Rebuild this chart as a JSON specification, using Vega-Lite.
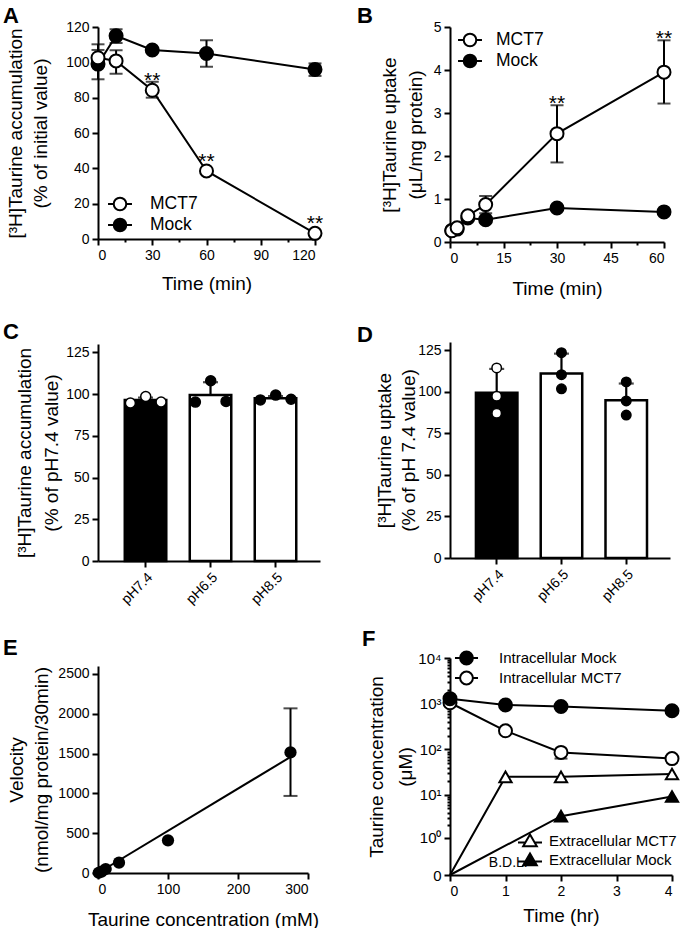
{
  "$schema": "https://vega.github.io/schema/vega-lite/v6.json",
  "background": "white",
  "padding": {"left": 3, "top": 5, "right": 0, "bottom": 0},
  "config": {
    "font": "Liberation Sans",
    "view": {"stroke": null},
    "axis": {"domainColor": "black", "domainWidth": 2, "tickColor": "black", "tickWidth": 2, "tickSize": 6, "tickCount": 100, "labelFontSize": 14, "labelColor": "black", "labelPadding": 3, "labelOverlap": false, "titleFontSize": 19, "titleFontWeight": "normal", "titleColor": "black", "grid": false, "titleLineHeight": 25},
    "axisY": {"minExtent": 30, "maxExtent": 30},
    "legend": {"labelColor": "black", "padding": 0, "titleFontSize": 0},
    "title": {"fontSize": 22, "fontWeight": "bold", "anchor": "start", "frame": "group", "color": "black", "baseline": "bottom"}
  },
  "datasets": {
    "A": [
      {"g": "Mock", "t": 0, "v": 99, "lo": 90.4, "hi": 110.2},
      {"g": "Mock", "t": 10, "v": 115, "lo": 111, "hi": 118.7},
      {"g": "Mock", "t": 30, "v": 107, "lo": 106, "hi": 108},
      {"g": "Mock", "t": 60, "v": 105, "lo": 97.5, "hi": 112.5},
      {"g": "Mock", "t": 120, "v": 96, "lo": 92.3, "hi": 99.4},
      {"g": "MCT7", "t": 0, "v": 102.6, "lo": 98, "hi": 107},
      {"g": "MCT7", "t": 10, "v": 100.8, "lo": 93.6, "hi": 106.8},
      {"g": "MCT7", "t": 30, "v": 84.2, "lo": 80, "hi": 89, "sig": "**"},
      {"g": "MCT7", "t": 60, "v": 38.5, "lo": 37.5, "hi": 39.5, "sig": "**"},
      {"g": "MCT7", "t": 120, "v": 3.2, "lo": 2.5, "hi": 4, "sig": "**"}
    ],
    "B": [
      {"g": "Mock", "t": 0.5, "v": 0.27},
      {"g": "Mock", "t": 2, "v": 0.3},
      {"g": "Mock", "t": 5, "v": 0.56},
      {"g": "Mock", "t": 10, "v": 0.52},
      {"g": "Mock", "t": 30, "v": 0.79},
      {"g": "Mock", "t": 60, "v": 0.7},
      {"g": "MCT7", "t": 0.5, "v": 0.26},
      {"g": "MCT7", "t": 2, "v": 0.33},
      {"g": "MCT7", "t": 5, "v": 0.61},
      {"g": "MCT7", "t": 10, "v": 0.87, "lo": 0.67, "hi": 1.07},
      {"g": "MCT7", "t": 30, "v": 2.52, "lo": 1.85, "hi": 3.18, "sig": "**"},
      {"g": "MCT7", "t": 60, "v": 3.95, "lo": 3.22, "hi": 4.69, "sig": "**"}
    ],
    "Cbar": [
      {"c": "pH7.4", "m": 96.5, "hi": 97.9},
      {"c": "pH6.5", "m": 99.4, "hi": 107.1},
      {"c": "pH8.5", "m": 97.5, "hi": 98.8}
    ],
    "Cpts": [
      {"c": "pH7.4", "rep": "a", "v": 94.6},
      {"c": "pH7.4", "rep": "b", "v": 98.5},
      {"c": "pH7.4", "rep": "c", "v": 95.2},
      {"c": "pH6.5", "rep": "a", "v": 95.2},
      {"c": "pH6.5", "rep": "b", "v": 108},
      {"c": "pH6.5", "rep": "c", "v": 95.6},
      {"c": "pH8.5", "rep": "a", "v": 96.5},
      {"c": "pH8.5", "rep": "b", "v": 99.4},
      {"c": "pH8.5", "rep": "c", "v": 96.9}
    ],
    "Dbar": [
      {"c": "pH7.4", "m": 99.5, "hi": 113.8},
      {"c": "pH6.5", "m": 111, "hi": 123},
      {"c": "pH8.5", "m": 94.9, "hi": 105}
    ],
    "Dpts": [
      {"c": "pH7.4", "v": 114.4},
      {"c": "pH7.4", "v": 97.4},
      {"c": "pH7.4", "v": 87.1},
      {"c": "pH6.5", "v": 123.6},
      {"c": "pH6.5", "v": 110.3},
      {"c": "pH6.5", "v": 101.8},
      {"c": "pH8.5", "v": 106},
      {"c": "pH8.5", "v": 94.5},
      {"c": "pH8.5", "v": 86}
    ],
    "E": [
      {"x": 1, "v": 3},
      {"x": 5, "v": 18},
      {"x": 11, "v": 50},
      {"x": 30, "v": 130},
      {"x": 100, "v": 410},
      {"x": 275, "v": 1515, "lo": 968, "hi": 2068}
    ],
    "Efit": [
      {"x": 0, "v": 0},
      {"x": 274, "v": 1452}
    ],
    "F": [
      {"g": "Intracellular MCT7", "t": 0, "v": 1050},
      {"g": "Intracellular MCT7", "t": 1, "v": 256},
      {"g": "Intracellular MCT7", "t": 2, "v": 86, "lo": 63, "hi": 110},
      {"g": "Intracellular MCT7", "t": 4, "v": 63},
      {"g": "Intracellular Mock", "t": 0, "v": 1290},
      {"g": "Intracellular Mock", "t": 1, "v": 940},
      {"g": "Intracellular Mock", "t": 2, "v": 870},
      {"g": "Intracellular Mock", "t": 4, "v": 700},
      {"g": "Extracellular MCT7", "t": 0, "v": 0},
      {"g": "Extracellular MCT7", "t": 1, "v": 25},
      {"g": "Extracellular MCT7", "t": 2, "v": 25},
      {"g": "Extracellular MCT7", "t": 4, "v": 29},
      {"g": "Extracellular Mock", "t": 0, "v": 0},
      {"g": "Extracellular Mock", "t": 2, "v": 3.3},
      {"g": "Extracellular Mock", "t": 4, "v": 9.2}
    ],
    "Fnote": [
      {"note": "B.D.L.", "t": 1.05, "v": 0.15}
    ]
  },
  "bounds": "flush",
  "spacing": 352,
  "resolve": {"scale": {"fill": "independent"}, "legend": {"fill": "independent"}},
  "hconcat": [
    {
      "bounds": "flush",
      "spacing": 105,
      "resolve": {"scale": {"fill": "independent"}, "legend": {"fill": "independent"}},
      "vconcat": [
        {
          "width": 217, "height": 212,
          "title": {"text": "A", "dx": -95, "offset": -8},
          "data": {"name": "A"},
          "encoding": {
            "x": {"field": "t", "type": "quantitative", "scale": {"domain": [0, 120]},
              "axis": {"values": [0, 15, 30, 45, 60, 75, 90, 105, 120], "format": "d", "labelExpr": "datum.value % 30 == 0 ? datum.label : ''", "tickSize": {"condition": {"test": "datum.value % 30 == 0", "value": 6}, "value": 3}, "title": "Time (min)", "titlePadding": 12}}
          },
          "layer": [
            {"mark": {"type": "line", "color": "black", "strokeWidth": 2},
              "encoding": {"y": {"field": "v", "type": "quantitative", "scale": {"domain": [0, 120]}, "axis": {"values": [0, 20, 40, 60, 80, 100, 120], "format": "d", "title": ["[³H]Taurine accumulation", "(% of initial value)"], "titlePadding": 18}}, "detail": {"field": "g"}}},
            {"transform": [{"filter": "isValid(datum.lo)"}],
              "mark": {"type": "rule", "color": "black", "strokeWidth": 2},
              "encoding": {"y": {"field": "lo", "type": "quantitative"}, "y2": {"field": "hi"}}},
            {"transform": [{"filter": "isValid(datum.lo)"}],
              "mark": {"type": "tick", "color": "black", "thickness": 2, "size": 13, "orient": "horizontal"},
              "encoding": {"y": {"field": "hi", "type": "quantitative"}}},
            {"transform": [{"filter": "isValid(datum.lo)"}],
              "mark": {"type": "tick", "color": "black", "thickness": 2, "size": 13, "orient": "horizontal"},
              "encoding": {"y": {"field": "lo", "type": "quantitative"}}},
            {"mark": {"type": "point", "filled": true, "size": 169, "stroke": "black", "strokeWidth": 2, "opacity": 1},
              "encoding": {"y": {"field": "v", "type": "quantitative"},
                "fill": {"field": "g", "type": "nominal", "scale": {"domain": ["MCT7", "Mock"], "range": ["white", "black"]},
                  "legend": {"title": null, "orient": "none", "legendX": 11.5, "legendY": 166.5, "labelFontSize": 17.5, "labelOffset": 19.5, "rowPadding": -2, "symbolSize": 361, "symbolStrokeColor": "black", "symbolStrokeWidth": 2,
                    "symbolType": "M-1.26,0H-0.66M0.66,0H1.26M-0.66,0A0.66,0.66,0,1,1,0.66,0A0.66,0.66,0,1,1,-0.66,0Z",
                    "encode": {"symbols": {"update": {"shape": {"value": "M-1.26,0H-0.66M0.66,0H1.26M-0.66,0A0.66,0.66,0,1,1,0.66,0A0.66,0.66,0,1,1,-0.66,0Z"}, "size": {"value": 361}, "stroke": {"value": "black"}, "strokeWidth": {"value": 2}}}}}}}},
            {"transform": [{"filter": "datum.sig"}],
              "mark": {"type": "text", "fontSize": 21, "dy": -3, "baseline": "alphabetic", "color": "black"},
              "encoding": {"y": {"field": "v", "type": "quantitative"}, "text": {"field": "sig"}}}
          ]
        },
        {
          "width": 222, "height": 217,
          "title": {"text": "C", "dx": -95, "offset": 0},
          "encoding": {
            "x": {"field": "c", "type": "nominal", "sort": ["pH7.4", "pH6.5", "pH8.5"], "scale": {"paddingInner": 0.36, "paddingOuter": 0.388, "align": 0.53},
              "axis": {"title": null, "labelAngle": -45, "labelFontSize": 14}}
          },
          "layer": [
            {"data": {"name": "Cbar"},
              "mark": {"type": "bar", "stroke": "black", "strokeWidth": 2.5, "width": 41.5},
              "encoding": {"y": {"field": "m", "type": "quantitative", "scale": {"domain": [0, 125]}, "axis": {"values": [0, 25, 50, 75, 100, 125], "format": "d", "title": ["[³H]Taurine accumulation", "(% of pH7.4 value)"], "titlePadding": 7, "titleLineHeight": 27}},
                "fill": {"condition": {"test": "datum.c === 'pH7.4'", "value": "black"}, "value": "white"}}},
            {"data": {"name": "Cbar"},
              "mark": {"type": "rule", "color": "black", "strokeWidth": 2.2},
              "encoding": {"y": {"field": "m", "type": "quantitative"}, "y2": {"field": "hi"}}},
            {"data": {"name": "Cbar"},
              "mark": {"type": "tick", "color": "black", "thickness": 2.2, "size": 15, "orient": "horizontal"},
              "encoding": {"y": {"field": "hi", "type": "quantitative"}}},
            {"data": {"name": "Cpts"},
              "mark": {"type": "point", "filled": true, "size": 100, "stroke": "black", "strokeWidth": 1.5, "opacity": 1},
              "encoding": {"y": {"field": "v", "type": "quantitative"},
                "xOffset": {"field": "rep", "type": "nominal", "scale": {"range": [-2, 44]}},
                "fill": {"condition": {"test": "datum.c === 'pH7.4'", "value": "white"}, "value": "black"}}}
          ]
        },
        {
          "width": 210, "height": 207,
          "title": {"text": "E", "dx": -95, "offset": 6},
          "encoding": {
            "x": {"field": "x", "type": "quantitative", "scale": {"domain": [0, 300]},
              "axis": {"values": [0, 100, 200, 300], "format": "d", "title": "Taurine concentration (mM)", "titlePadding": 14}}
          },
          "layer": [
            {"data": {"name": "Efit"},
              "mark": {"type": "line", "color": "black", "strokeWidth": 2},
              "encoding": {"y": {"field": "v", "type": "quantitative", "scale": {"domain": [0, 2500]}, "axis": {"values": [0, 500, 1000, 1500, 2000, 2500], "format": "d", "title": ["Velocity", "(nmol/mg protein/30min)"], "titlePadding": 17}}}},
            {"data": {"name": "E"}, "transform": [{"filter": "isValid(datum.lo)"}],
              "mark": {"type": "rule", "color": "black", "strokeWidth": 2},
              "encoding": {"y": {"field": "lo", "type": "quantitative"}, "y2": {"field": "hi"}}},
            {"data": {"name": "E"}, "transform": [{"filter": "isValid(datum.lo)"}],
              "mark": {"type": "tick", "color": "black", "thickness": 2, "size": 14, "orient": "horizontal"},
              "encoding": {"y": {"field": "hi", "type": "quantitative"}}},
            {"data": {"name": "E"}, "transform": [{"filter": "isValid(datum.lo)"}],
              "mark": {"type": "tick", "color": "black", "thickness": 2, "size": 14, "orient": "horizontal"},
              "encoding": {"y": {"field": "lo", "type": "quantitative"}}},
            {"data": {"name": "E"},
              "mark": {"type": "point", "filled": true, "size": 150, "color": "black", "opacity": 1},
              "encoding": {"y": {"field": "v", "type": "quantitative"}}}
          ]
        }
      ]
    },
    {
      "bounds": "flush",
      "spacing": 100,
      "resolve": {"scale": {"fill": "independent"}, "legend": {"fill": "independent"}},
      "vconcat": [
        {
          "width": 214, "height": 215,
          "title": {"text": "B", "dx": -93, "offset": -8},
          "data": {"name": "B"},
          "encoding": {
            "x": {"field": "t", "type": "quantitative", "scale": {"domain": [0, 60]},
              "axis": {"values": [0, 7.5, 15, 22.5, 30, 37.5, 45, 52.5, 60], "format": "d", "labelExpr": "datum.value % 15 == 0 ? datum.label : ''", "tickSize": {"condition": {"test": "datum.value % 15 == 0", "value": 6}, "value": 3}, "title": "Time (min)", "titlePadding": 14}}
          },
          "layer": [
            {"mark": {"type": "line", "color": "black", "strokeWidth": 2},
              "encoding": {"y": {"field": "v", "type": "quantitative", "scale": {"domain": [0, 5]}, "axis": {"values": [0, 1, 2, 3, 4, 5], "format": "d", "title": ["[³H]Taurine uptake", "(μL/mg protein)"], "titlePadding": -5, "titleLineHeight": 26}}, "detail": {"field": "g"}}},
            {"transform": [{"filter": "isValid(datum.lo)"}],
              "mark": {"type": "rule", "color": "black", "strokeWidth": 2},
              "encoding": {"y": {"field": "lo", "type": "quantitative"}, "y2": {"field": "hi"}}},
            {"transform": [{"filter": "isValid(datum.lo)"}],
              "mark": {"type": "tick", "color": "black", "thickness": 2, "size": 13, "orient": "horizontal"},
              "encoding": {"y": {"field": "hi", "type": "quantitative"}}},
            {"transform": [{"filter": "isValid(datum.lo)"}],
              "mark": {"type": "tick", "color": "black", "thickness": 2, "size": 13, "orient": "horizontal"},
              "encoding": {"y": {"field": "lo", "type": "quantitative"}}},
            {"mark": {"type": "point", "filled": true, "size": 169, "stroke": "black", "strokeWidth": 2, "opacity": 1},
              "encoding": {"y": {"field": "v", "type": "quantitative"},
                "fill": {"field": "g", "type": "nominal", "scale": {"domain": ["MCT7", "Mock"], "range": ["white", "black"]},
                  "legend": {"title": null, "orient": "none", "legendX": 9.5, "legendY": 2.5, "labelFontSize": 17.5, "labelOffset": 15.5, "rowPadding": -1, "symbolSize": 361, "symbolStrokeColor": "black", "symbolStrokeWidth": 2,
                    "symbolType": "M-1.26,0H-0.66M0.66,0H1.26M-0.66,0A0.66,0.66,0,1,1,0.66,0A0.66,0.66,0,1,1,-0.66,0Z",
                    "encode": {"symbols": {"update": {"shape": {"value": "M-1.26,0H-0.66M0.66,0H1.26M-0.66,0A0.66,0.66,0,1,1,0.66,0A0.66,0.66,0,1,1,-0.66,0Z"}, "size": {"value": 361}, "stroke": {"value": "black"}, "strokeWidth": {"value": 2}}}}}}}},
            {"transform": [{"filter": "datum.sig"}],
              "mark": {"type": "text", "fontSize": 21, "dy": 5, "baseline": "alphabetic", "color": "black"},
              "encoding": {"y": {"field": "hi", "type": "quantitative"}, "text": {"field": "sig"}}}
          ]
        },
        {
          "width": 220, "height": 216,
          "title": {"text": "D", "dx": -93, "offset": -5},
          "encoding": {
            "x": {"field": "c", "type": "nominal", "sort": ["pH7.4", "pH6.5", "pH8.5"], "scale": {"paddingInner": 0.36, "paddingOuter": 0.378, "align": 0.53},
              "axis": {"title": null, "labelAngle": -45, "labelFontSize": 14}}
          },
          "layer": [
            {"data": {"name": "Dbar"},
              "mark": {"type": "bar", "stroke": "black", "strokeWidth": 2.5, "width": 41.5},
              "encoding": {"y": {"field": "m", "type": "quantitative", "scale": {"domain": [0, 125]}, "axis": {"values": [0, 25, 50, 75, 100, 125], "format": "d", "title": ["[³H]Taurine uptake", "(% of pH 7.4 value)"], "titlePadding": 2, "titleLineHeight": 24}},
                "fill": {"condition": {"test": "datum.c === 'pH7.4'", "value": "black"}, "value": "white"}}},
            {"data": {"name": "Dbar"},
              "mark": {"type": "rule", "color": "black", "strokeWidth": 2.2},
              "encoding": {"y": {"field": "m", "type": "quantitative"}, "y2": {"field": "hi"}}},
            {"data": {"name": "Dbar"},
              "mark": {"type": "tick", "color": "black", "thickness": 2.2, "size": 15, "orient": "horizontal"},
              "encoding": {"y": {"field": "hi", "type": "quantitative"}}},
            {"data": {"name": "Dpts"},
              "mark": {"type": "point", "filled": true, "size": 90, "stroke": "black", "strokeWidth": 1.5, "opacity": 1},
              "encoding": {"y": {"field": "v", "type": "quantitative"},
                "fill": {"condition": {"test": "datum.c === 'pH7.4'", "value": "white"}, "value": "black"}}}
          ]
        },
        {
          "width": 222, "height": 217,
          "title": {"text": "F", "dx": -88, "offset": -2},
          "encoding": {
            "x": {"field": "t", "type": "quantitative", "scale": {"domain": [0, 4]},
              "axis": {"values": [0, 0.5, 1, 1.5, 2, 2.5, 3, 3.5, 4], "format": "d", "labelExpr": "datum.value % 1 == 0 ? datum.label : ''", "tickSize": {"condition": {"test": "datum.value % 1 == 0", "value": 6}, "value": 3}, "title": "Time (hr)", "titlePadding": 8}}
          },
          "layer": [
            {"data": {"name": "F"},
              "mark": {"type": "line", "color": "black", "strokeWidth": 2},
              "encoding": {"y": {"field": "v", "type": "quantitative", "scale": {"type": "symlog", "constant": 0.18, "domain": [0, 10000]},
                "axis": {"values": [0, 1, 2, 3, 4, 5, 6, 7, 8, 9, 10, 20, 30, 40, 50, 60, 70, 80, 90, 100, 200, 300, 400, 500, 600, 700, 800, 900, 1000, 2000, 3000, 4000, 5000, 6000, 7000, 8000, 9000, 10000],
                  "labelExpr": "datum.value == 0 ? '0' : datum.value == 1 ? '10⁰' : datum.value == 10 ? '10¹' : datum.value == 100 ? '10²' : datum.value == 1000 ? '10³' : datum.value == 10000 ? '10⁴' : ''",
                  "tickSize": {"condition": {"test": "datum.value == 0 || datum.value == 1 || datum.value == 10 || datum.value == 100 || datum.value == 1000 || datum.value == 10000", "value": 6}, "value": 3},
                  "labelFontSize": 15,
                  "title": ["Taurine concentration", "(μM)"], "titlePadding": 5, "titleLineHeight": 29}},
                "detail": {"field": "g"}}},
            {"data": {"name": "F"}, "transform": [{"filter": "isValid(datum.lo)"}],
              "mark": {"type": "rule", "color": "black", "strokeWidth": 2},
              "encoding": {"y": {"field": "lo", "type": "quantitative"}, "y2": {"field": "hi"}}},
            {"data": {"name": "F"}, "transform": [{"filter": "isValid(datum.lo)"}],
              "mark": {"type": "tick", "color": "black", "thickness": 2, "size": 13, "orient": "horizontal"},
              "encoding": {"y": {"field": "lo", "type": "quantitative"}}},
            {"data": {"name": "F"}, "transform": [{"filter": "indexof(datum.g, 'Intracellular') == 0"}],
              "mark": {"type": "point", "filled": true, "size": 169, "stroke": "black", "strokeWidth": 2, "opacity": 1},
              "encoding": {"y": {"field": "v", "type": "quantitative"},
                "fill": {"field": "g", "type": "nominal", "scale": {"domain": ["Intracellular Mock", "Intracellular MCT7"], "range": ["black", "white"]},
                  "legend": {"title": null, "orient": "none", "legendX": 7.5, "legendY": -9, "labelFontSize": 15, "labelOffset": 23.5, "rowPadding": -8, "symbolSize": 256, "symbolStrokeColor": "black", "symbolStrokeWidth": 2,
                    "symbolType": "M-1.44,0H-0.8M0.8,0H1.44M-0.8,0A0.8,0.8,0,1,1,0.8,0A0.8,0.8,0,1,1,-0.8,0Z",
                    "encode": {"symbols": {"update": {"shape": {"value": "M-1.44,0H-0.8M0.8,0H1.44M-0.8,0A0.8,0.8,0,1,1,0.8,0A0.8,0.8,0,1,1,-0.8,0Z"}, "size": {"value": 256}, "stroke": {"value": "black"}, "strokeWidth": {"value": 2}}}}}}}},
            {"data": {"name": "F"}, "transform": [{"filter": "indexof(datum.g, 'Extracellular') == 0 && datum.v > 0"}],
              "mark": {"type": "point", "filled": true, "shape": "triangle-up", "size": 150, "stroke": "black", "strokeWidth": 2, "opacity": 1},
              "encoding": {"y": {"field": "v", "type": "quantitative"},
                "fill": {"field": "g", "type": "nominal", "scale": {"domain": ["Extracellular MCT7", "Extracellular Mock"], "range": ["white", "black"]},
                  "legend": {"title": null, "orient": "none", "legendX": 71, "legendY": 174, "labelFontSize": 15, "labelOffset": 10, "rowPadding": -8, "symbolSize": 256, "symbolStrokeColor": "black", "symbolStrokeWidth": 2,
                    "symbolType": "M-1.5,0.2H-0.59M0.59,0.2H1.5M0,-0.8L0.85,0.65L-0.85,0.65Z",
                    "encode": {"symbols": {"update": {"shape": {"value": "M-1.5,0.2H-0.59M0.59,0.2H1.5M0,-0.8L0.85,0.65L-0.85,0.65Z"}, "size": {"value": 256}, "stroke": {"value": "black"}, "strokeWidth": {"value": 2}}}}}}}},
            {"data": {"name": "Fnote"},
              "mark": {"type": "text", "fontSize": 14, "color": "black"},
              "encoding": {"y": {"field": "v", "type": "quantitative"}, "text": {"field": "note"}}}
          ],
          "resolve": {"scale": {"fill": "independent"}}
        }
      ]
    }
  ]
}
